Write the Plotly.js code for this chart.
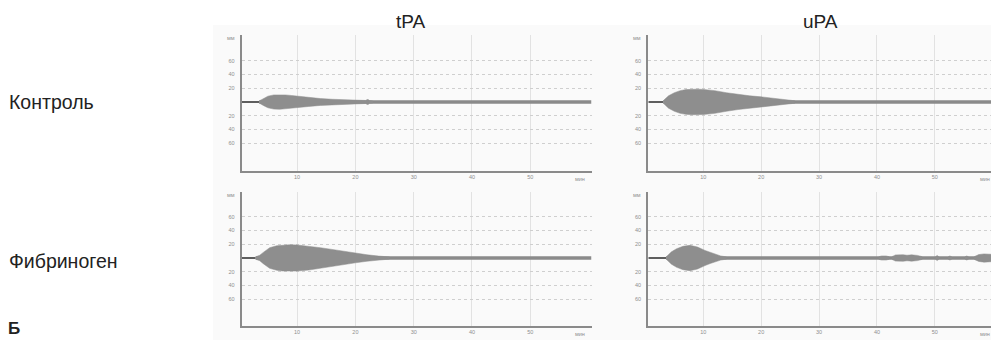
<!DOCTYPE html>
<html>
<head>
<meta charset="utf-8">
<script src="https://cdn.plot.ly/plotly-3.0.1.min.js"></script>
<style>html,body{margin:0;padding:0;background:#fff;}#chart{width:991px;height:340px;}</style>
</head>
<body>
<div id="chart"></div>
<script>
// Column / row labels
const colTitles = ["tPA", "uPA"];
const rowTitles = ["Контроль", "Фибриноген"];
const panelLetter = "Б";

// Axis ticks
const xTickVals = [10, 20, 30, 40, 50];
const xTickText = ["10", "20", "30", "40", "50"];
const yTickVals = [-60, -40, -20, 20, 40, 60];
const yTickText = ["60", "40", "20", "20", "40", "60"];
const xUnit = "мин";
const yUnit = "мм";

// Half-amplitude (mm) vs time (min) for each panel
const tpaCtrlT = [3.5, 4.2, 5, 6, 7, 8, 9, 10, 12, 14, 16, 18, 20, 21.8, 22, 22.2, 22.4, 23];
const tpaCtrlA = [1.5, 5, 8.5, 10.3, 10.7, 10.3, 9.5, 8.5, 6.5, 5, 4, 3.2, 2.6, 2.2, 3.5, 3.5, 2, 1.5];

const upaCtrlT = [3.1, 4, 5, 6, 7, 8, 9, 10, 12, 14, 16, 18, 20, 22, 24, 25.8];
const upaCtrlA = [2, 9, 13.5, 16.5, 18, 18.6, 18.7, 18.3, 16.5, 13.5, 11, 9, 7.5, 5.5, 3.4, 1.8];

const tpaFibT = [2.9, 3.6, 4.2, 5.3, 6.5, 7.5, 8.7, 10, 12, 14, 16, 18, 20, 22, 24, 25.8];
const tpaFibA = [1.8, 4, 8.2, 15, 17.8, 18.9, 19.3, 19, 17.5, 15, 12.5, 9.7, 7, 4.7, 2.8, 1.6];

const upaFibT = [3.6, 4.5, 5.4, 6.5, 7.7, 9, 10.3, 11.2, 12, 13, 14];
const upaFibA = [1.8, 9, 13.6, 17, 18.4, 16, 11, 8, 5.3, 3, 1.6];

// late small oscillation bursts in uPA + fibrinogen (segments separated by null)
const upaFibLateT = [40.3, 40.8, 41.6, 42.1, null, 42.6, 43.2, 44.5, 45.2, 46, 47, 47.8, null, 50.1, 50.4, 50.7, null, 52.3, 52.6, 52.9, null, 55.2, 55.5, 55.8, null, 56.8, 57.6, 58.5, 59.5, 60.5];
const upaFibLateA = [1.8, 3, 3, 1.8, null, 2, 4.5, 4.8, 4, 4.6, 3.8, 2, null, 1.8, 3.8, 1.8, null, 1.8, 3, 1.8, null, 1.8, 3, 1.8, null, 2, 5, 6, 5.5, 5];

const baseStart = 0.5;

const blobColor = "#8e8e8e";
const panels = [
  {T: tpaCtrlT, A: tpaCtrlA, xa: "x", ya: "y", xend: 60.5},
  {T: upaCtrlT, A: upaCtrlA, xa: "x2", ya: "y2", xend: 60},
  {T: tpaFibT, A: tpaFibA, xa: "x3", ya: "y3", xend: 60.5},
  {T: upaFibT, A: upaFibA, xa: "x4", ya: "y4", xend: 60}
];

function blob(T, A, xa, ya) {
  const xs = T.concat(T.slice().reverse());
  const ys = A.concat(A.slice().reverse().map(v => -v));
  return {x: xs, y: ys, xaxis: xa, yaxis: ya, type: "scatter", mode: "lines",
    fill: "toself", fillcolor: blobColor, line: {width: 0.5, color: blobColor},
    hoverinfo: "skip", showlegend: false};
}

const traces = [];
panels.forEach(p => {
  traces.push({x: [baseStart, p.T[0]], y: [0, 0], xaxis: p.xa, yaxis: p.ya, mode: "lines",
    line: {color: "#5e5e5e", width: 2.2}, showlegend: false, hoverinfo: "skip"});
  traces.push({x: [p.T[0], p.xend], y: [0, 0], xaxis: p.xa, yaxis: p.ya, mode: "lines",
    line: {color: "#8a8a8a", width: 3.4}, showlegend: false, hoverinfo: "skip"});
  traces.push(blob(p.T, p.A, p.xa, p.ya));
});
let segT = [], segA = [];
upaFibLateT.concat([null]).forEach((t, i) => {
  if (t === null) { if (segT.length) traces.push(blob(segT, segA, "x4", "y4")); segT = []; segA = []; }
  else { segT.push(t); segA.push(upaFibLateA[i]); }
});

const W = 991, H = 340;
const leftDom = [241.7 / W, 591.5 / W];
const rightDom = [648.3 / W, 1];
const topDom = [1 - 170.7 / H, 1 - 35 / H];
const botDom = [1 - 325.7 / H, 1 - 191.7 / H];

const tickFont = {size: 5.5, color: "#8f8f8f", family: "Liberation Sans, Arial"};
function xax(dom, range, anchor) {
  return {domain: dom, range: range, anchor: anchor, showline: true, linecolor: "#8a8a8a", linewidth: 2,
    tickvals: xTickVals, ticktext: xTickText, ticks: "", showgrid: true, gridcolor: "#e2e2e2", gridwidth: 1,
    zeroline: false, tickfont: tickFont, fixedrange: true};
}
function yax(dom, range, anchor) {
  return {domain: dom, range: range, anchor: anchor, showline: true, linecolor: "#8a8a8a", linewidth: 2,
    tickvals: yTickVals, ticktext: yTickText, ticks: "", showgrid: true, gridcolor: "#cfcfcf", gridwidth: 1,
    griddash: "dot", zeroline: false, tickfont: tickFont, ticklabelstandoff: 4, fixedrange: true};
}

const txtFont = {family: "Liberation Sans, Arial, sans-serif", size: 19.5, color: "#222"};
function ann(text, px, py, xanchor, font) {
  return {text: text, x: px / W, y: 1 - py / H, xref: "paper", yref: "paper", xanchor: xanchor,
    yanchor: "middle", showarrow: false, font: font};
}
const annotations = [
  ann(colTitles[0], 410.5, 21, "center", {...txtFont, size: 19}),
  ann(colTitles[1], 820.5, 21, "center", {...txtFont, size: 19}),
  ann(rowTitles[0], 7, 102, "left", txtFont),
  ann(rowTitles[1], 7, 261, "left", txtFont),
  ann("<b>" + panelLetter + "</b>", 6, 328, "left", {...txtFont, size: 17})
];
[["x", "y"], ["x2", "y2"], ["x3", "y3"], ["x4", "y4"]].forEach(([xa, ya]) => {
  annotations.push({text: yUnit, xref: xa + " domain", yref: ya + " domain", x: 0, y: 0.975, xanchor: "right", yanchor: "middle", xshift: -5,
    showarrow: false, font: tickFont});
  annotations.push({text: xUnit, xref: xa, yref: ya + " domain", x: 58.6, y: 0, xanchor: "center", yanchor: "top", yshift: -3,
    showarrow: false, font: tickFont});
});

const layout = {
  width: W, height: H, autosize: false,
  margin: {l: 0, r: 0, t: 0, b: 0, pad: 0},
  paper_bgcolor: "#ffffff", plot_bgcolor: "rgba(0,0,0,0)",
  showlegend: false,
  xaxis: xax(leftDom, [0.5, 60.5], "y"),
  yaxis: yax(topDom, [-100, 97.5], "x"),
  xaxis2: xax(rightDom, [0.5, 59.7], "y2"),
  yaxis2: yax(topDom, [-100, 97.5], "x2"),
  xaxis3: xax(leftDom, [0.5, 60.5], "y3"),
  yaxis3: yax(botDom, [-98.5, 96.5], "x3"),
  xaxis4: xax(rightDom, [0.5, 59.7], "y4"),
  yaxis4: yax(botDom, [-98.5, 96.5], "x4"),
  shapes: [
    {type: "rect", xref: "paper", yref: "paper", x0: 213 / W, x1: 1, y0: 0, y1: 1 - 25 / H,
      fillcolor: "#fafafa", line: {width: 0}, layer: "below"}
  ],
  annotations: annotations
};

Plotly.newPlot("chart", traces, layout, {displayModeBar: false, staticPlot: true});
</script>
</body>
</html>
